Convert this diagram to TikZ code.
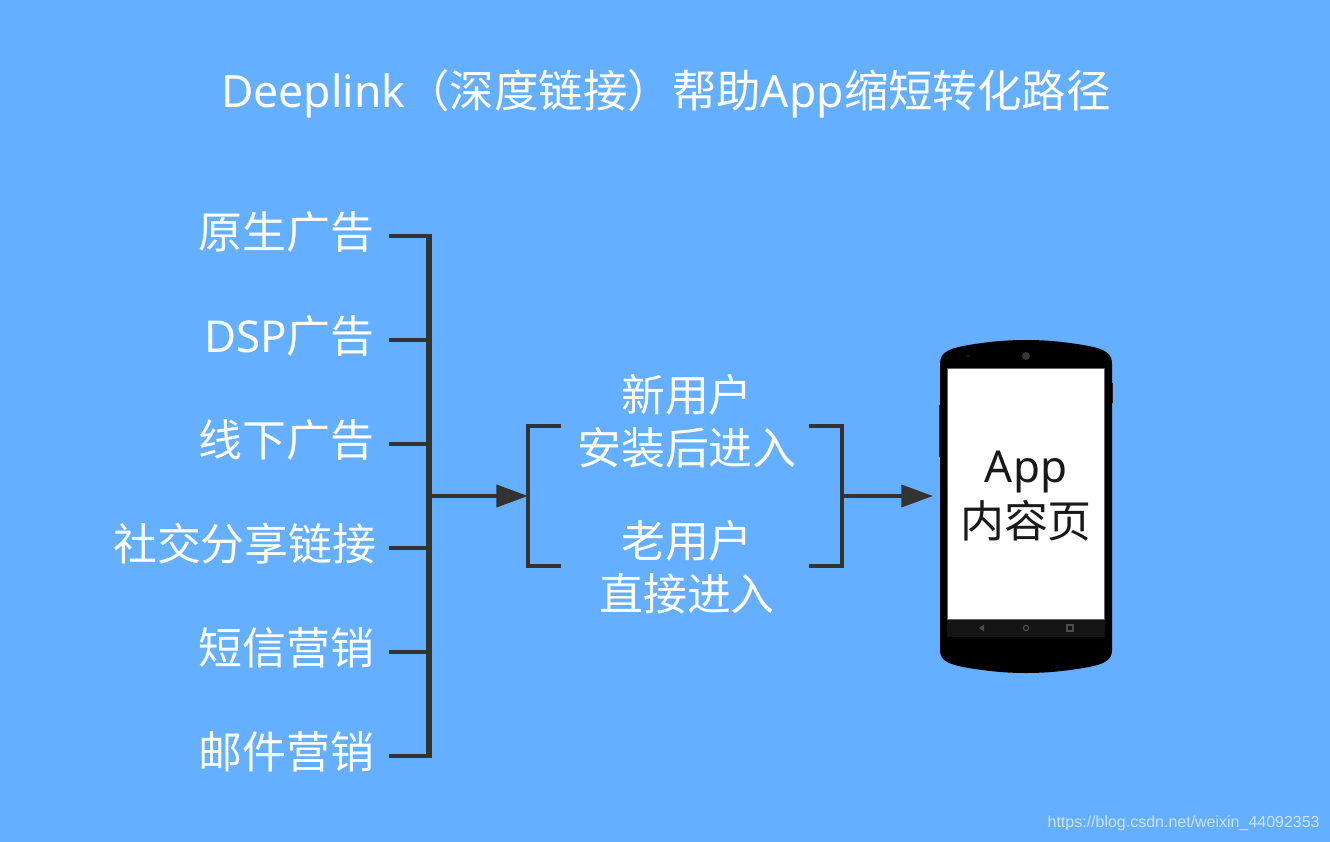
\documentclass[tikz,border=0pt]{standalone}
\usepackage{fontspec}
\setmainfont{Noto Sans CJK SC}
\newfontfamily\latinfont{Noto Sans}
\newfontfamily\markfont{Liberation Sans}
\usetikzlibrary{arrows.meta, positioning}
\definecolor{skyback}{HTML}{64AFFF}
\definecolor{linegray}{HTML}{333333}
\definecolor{marktext}{HTML}{CDE3FB}

\begin{document}
\begin{tikzpicture}[x=0.02cm, y=-0.02cm, >={Triangle[length=18pt, width=12.5pt]}]
  % Set the styles
  \tikzset{bigtext/.style={text=white, inner sep=0pt, align=center, font=\fontsize{25}{30}\selectfont}}
  \tikzset{srcnode/.style={bigtext, anchor=east}}
  \tikzset{thinline/.style={draw=linegray, line width=2.2pt}}
  \tikzset{busline/.style={draw=linegray, line width=3.4pt}}

  % Background
  \fill[skyback] (0,0) rectangle (1330,842);
  \useasboundingbox (0,0) rectangle (1330,842);

  % Title
  \node[bigtext, font=\fontsize{25.3}{30}\selectfont] (title) at (666,94) {{\latinfont Deeplink}（深度链接）帮助{\latinfont App}缩短转化路径};

  % Draw the source labels and their stubs
  \coordinate (bustop) at (429,236);
  \coordinate (busend) at (429,756);
  \foreach \i/\x/\y/\label in {1/375/232/原生广告,2/375/336/{\latinfont DSP}广告,3/375/440/线下广告,4/377/544/社交分享链接,5/375/648/短信营销,6/375/752/邮件营销}{
    \node[srcnode] (src\i) at (\x,\y) {\label};
    \coordinate (stub\i) at (389,\y+4);
    \draw[thinline] (stub\i) -- (429,\y+4);
  }
  \draw[busline] ([yshift=1.1pt]bustop) -- ([yshift=-1.1pt]busend);

  % User labels and brackets
  \node[bigtext] (newuser) at (687,421) {新用户\\安装后进入};
  \node[bigtext] (olduser) at (687,567) {老用户\\直接进入};
  \coordinate (busout) at (431,496);
  \coordinate (leftin) at (528,496);
  \coordinate (rightout) at (842,496);
  \coordinate (phonein) at (933,496);
  \draw[thinline] (561,426) -- (528,426) -- (528,566) -- (561,566);
  \draw[thinline] (809,426) -- (842,426) -- (842,566) -- (809,566);
  \draw[thinline, ->] (busout) -- (leftin);
  \draw[thinline, ->] (rightout) -- (phonein);

  % Phone body
  \fill[black!85] (938.5,405) rectangle (941,457);
  \fill[black!85] (1111,383) rectangle (1113,403);
  \fill[black] (940,364) .. controls (940,352) and (948,348) .. (975,344)
    .. controls (995,341) and (1010,340) .. (1026,340)
    .. controls (1042,340) and (1057,341) .. (1077,344)
    .. controls (1104,348) and (1112,352) .. (1112,364)
    -- (1112,650) .. controls (1112,661) and (1104,665) .. (1077,669)
    .. controls (1057,672) and (1042,673) .. (1026,673)
    .. controls (1010,673) and (995,672) .. (975,669)
    .. controls (948,665) and (940,661) .. (940,650) -- cycle;
  \fill[black!92] (947,620) rectangle (1105,637);
  \node[draw=black!60, line width=0.8pt, fill=white, minimum width=3.14cm, minimum height=5.02cm, inner sep=0pt] (screen) at (1026,494) {};
  \fill[black!78] (1026,356) circle (4);
  \fill[black!75!green] (968,356) circle (1.2);
  \draw[black!70, line width=0.7pt] (1026,628) circle (2.6);
  \fill[black!70] (979,628) -- (984,624.5) -- (984,631.5) -- cycle;
  \draw[black!70, line width=0.7pt] (1067,625) rectangle (1073,631);

  % Phone text
  \node[bigtext, text=black!90, font=\fontsize{25}{31}\selectfont] (apptext) at (1026,496) {{\latinfont App}\\内容页};

  % Watermark
  \node[text=marktext, inner sep=0pt, anchor=east, font=\markfont\fontsize{9.1}{11}\selectfont] (mark) at (1320,823) {https://blog.csdn.net/weixin\_44092353};
\end{tikzpicture}
\end{document}
